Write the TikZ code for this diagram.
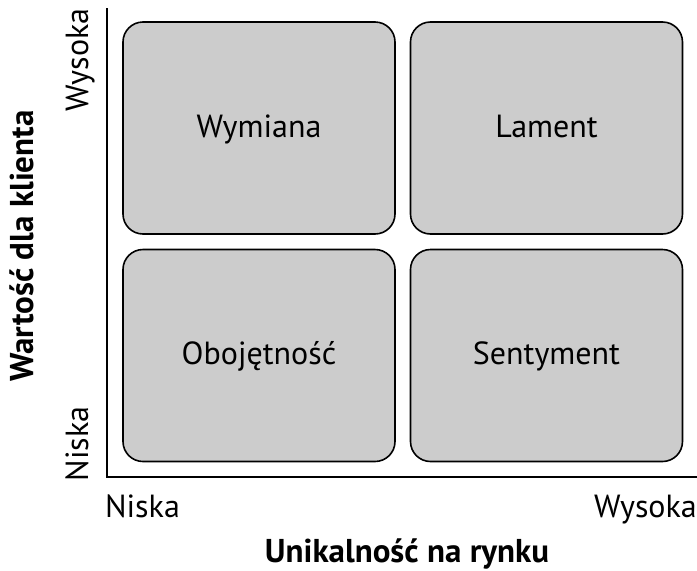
\documentclass[tikz,border=0pt]{standalone}
\usepackage{fontspec}
\setmainfont{PT Sans}
\begin{document}
\begin{tikzpicture}[x=1pt,y=1pt,
  quad/.style={draw=black, line width=1.6pt, fill=boxgray, rounded corners=20pt,
    minimum width=272pt, minimum height=212pt, inner sep=0pt,
    text height=18pt, text depth=0pt, font=\fontsize{32}{38}\selectfont},
  axis/.style={line width=1.5pt},
  tick/.style={font=\fontsize{32}{38}\selectfont, inner sep=0pt},
  title/.style={font=\fontsize{33}{39}\selectfont\bfseries, inner sep=0pt}]
\definecolor{boxgray}{RGB}{204,204,204}
\useasboundingbox (0,0) rectangle (697,-571);
\coordinate (top) at (107,-8);
\coordinate (origin) at (107,-477);
\coordinate (right) at (697,-477);
\draw[axis] (top) -- (origin) -- (right);
\node[quad] (tl) at (259,-128) {Wymiana};
\node[quad] (tr) at (546.5,-128) {Lament};
\node[quad] (bl) at (259,-355.5) {Obojętność};
\node[quad] (br) at (546.5,-355.5) {Sentyment};
\node[tick, rotate=90, anchor=base] (yhi) at (88,-60) {Wysoka};
\node[tick, rotate=90, anchor=base] (ylo) at (88,-444) {Niska};
\node[tick, anchor=base] (xlo) at (142.5,-517) {Niska};
\node[tick, anchor=base east] (xhi) at (697,-517) {Wysoka};
\node[title, rotate=90, anchor=base] (ytitle) at (33,-246) {Wartość dla klienta};
\node[title, anchor=base] (xtitle) at (407,-562) {Unikalność na rynku};
\end{tikzpicture}
\end{document}
